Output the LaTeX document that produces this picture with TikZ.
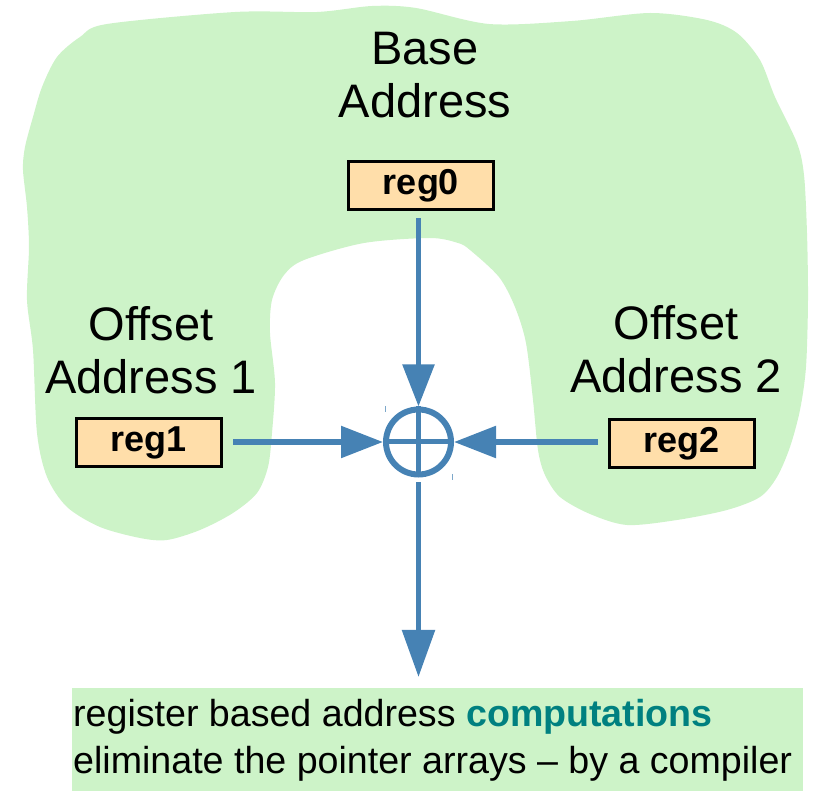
\documentclass[tikz,border=0pt]{standalone}
\usepackage{fontspec}
\setmainfont{Liberation Sans}
\usetikzlibrary{arrows.meta}
\definecolor{blobgreen}{RGB}{205,243,200}
\definecolor{regfill}{RGB}{255,222,170}
\definecolor{arrowblue}{RGB}{70,130,180}
\definecolor{tealtext}{RGB}{0,128,128}
\tikzset{
  regbox/.style={draw=black, line width=3pt, fill=regfill, minimum width=145pt,
    minimum height=48pt, inner sep=0pt, font=\fontsize{36}{40}\selectfont\bfseries},
  addrlabel/.style={align=center, inner sep=0pt, anchor=south,
    font=\fontsize{47}{53}\selectfont},
  arr/.style={draw=arrowblue, line width=5.5pt, -{Triangle[length=42pt,width=31pt]}},
  notetext/.style={anchor=base west, inner sep=0pt, font=\fontsize{37.6}{46}\selectfont},
}
\begin{document}
\begin{tikzpicture}[x=1pt,y=-1pt]
\useasboundingbox (0,0) rectangle (815,791);
% green blob
\fill[blobgreen] plot[smooth cycle, tension=0.5] coordinates {
 (107,24) (235,12) (317,12) (372,6) (416,8) (489,24) (572,21)
 (650,13) (707,20) (737,33) (760,60) (775,97) (797,143) (804,175) (807,233)
 (808,300) (806,367) (800,410) (790,447) (777,477) (760,497) (727,510)
 (677,520) (627,525) (590,514) (560,497) (545,475) (538,450) (533,400)
 (526,343) (515,307) (499,277) (470,250) (458,243) (430,238) (364,243)
 (304,260) (284,275) (272,300) (270,333) (275,383) (272,433) (268,467)
 (257,493) (233,513) (200,530) (167,540) (140,538) (100,527) (67,507)
 (47,477) (37,433) (33,350) (27,300) (29,247) (27,207) (23,170) (25,147)
 (33,117) (42,87) (57,57) (80,37)};
% labels
\node[addrlabel] (base) at (425,118) {Base\\Address};
\node[addrlabel] (off1) at (151,394) {Offset\\Address 1};
\node[addrlabel] (off2) at (676,393) {Offset\\Address 2};
% registers
\node[regbox] (reg0) at (421,186) {reg0};
\node[regbox] (reg1) at (149,442.5) {reg1};
\node[regbox] (reg2) at (681.5,443.5) {reg2};
% adder
\node[circle, draw=arrowblue, line width=6pt, minimum size=65pt, inner sep=0pt] (sum) at (418.5,442) {};
\draw[arrowblue, line width=5pt] (sum.north) -- (sum.south);
\draw[arrowblue, line width=5pt] (sum.west) -- (sum.east);
\draw[arrowblue!70, line width=1pt] (385,406) -- (385,412);
\draw[arrowblue!70, line width=1pt] (452.5,474) -- (452.5,480);
% note box
\node[fill=blobgreen, minimum width=731pt, minimum height=103pt, inner sep=0pt, anchor=north west] (note) at (72,688) {};
\node[notetext] (line1) at (73,727) {register based address \textcolor{tealtext}{\bfseries computations}};
\node[notetext] (line2) at (73,773) {eliminate the pointer arrays – by a compiler};
% arrows
\draw[arr, shorten <=7pt] (sum.north |- reg0.south) -- (sum.north);
\draw[arr, shorten <=10pt] (reg1.east |- sum.west) -- (sum.west);
\draw[arr, shorten <=9.5pt] (reg2.west |- sum.east) -- (sum.east);
\draw[arr, -{Triangle[length=47pt,width=32pt]}, shorten <=5pt, shorten >=11pt] (sum.south) -- (sum.south |- note.north);
\end{tikzpicture}
\end{document}
